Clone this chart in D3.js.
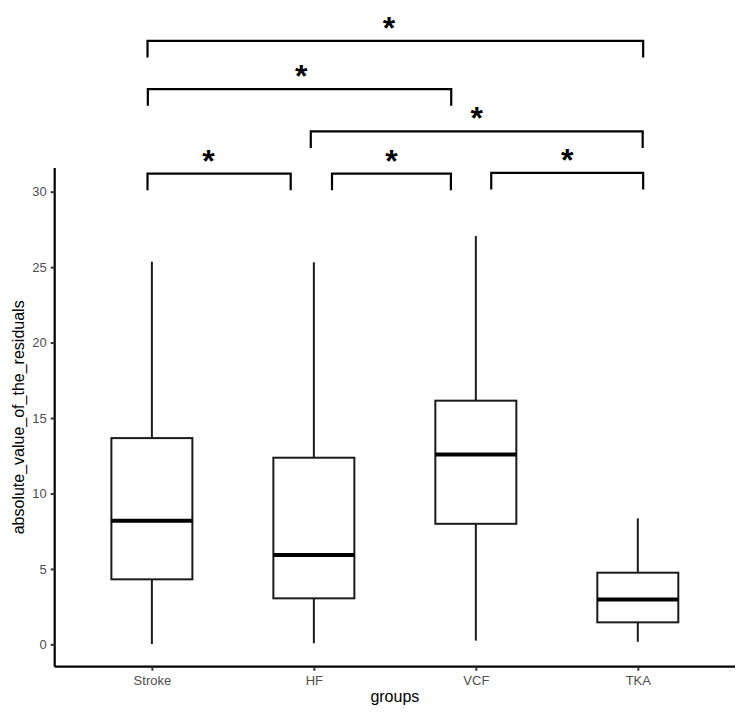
<!DOCTYPE html>
<html>
<head>
<meta charset="utf-8">
<script src="https://cdn.jsdelivr.net/npm/d3@7"></script>
<style>
  html, body { margin: 0; padding: 0; background: #fff; }
  svg { display: block; }
</style>
</head>
<body>
<svg id="chart" width="750" height="712"></svg>
<script>
// ---- data ----
const categories = ["Stroke", "HF", "VCF", "TKA"];
const whiskerLow  = [0.02, 0.07, 0.25, 0.17];
const q1          = [4.31, 3.05, 7.99, 1.46];
const median      = [8.19, 5.92, 12.59, 2.98];
const q3          = [13.67, 12.37, 16.15, 4.75];
const whiskerHigh = [25.36, 25.32, 27.06, 8.35];
const yTicks = [0, 5, 10, 15, 20, 25, 30];

// significance brackets (x in category units, 1-based; y in data units)
const bracketStart = [0.973, 0.975, 1.981, 0.973, 2.112, 3.095];
const bracketEnd   = [4.033, 2.848, 4.030, 1.857, 2.846, 4.033];
const bracketY     = [40.0, 36.8, 34.0, 31.2, 31.2, 31.25];
const bracketLabel = ["*", "*", "*", "*", "*", "*"];
const labelShift   = [-0.04, 0.01, 0, -0.065, 0, 0];

// ---- layout ----
const svg = d3.select("#chart");
const x = d3.scaleLinear().domain([0.4, 4.6]).range([54.7, 735]);
const y = d3.scaleLinear().domain([-1.48, 31.57]).range([666.7, 168]);
const boxW = 0.5;
const tickLen = 1.1;

const fontFam = "'Liberation Sans', Arial, Helvetica, sans-serif";

// boxes
const g = svg.append("g");
categories.forEach((c, i) => {
  const cx = x(i + 1);
  g.append("line").attr("x1", cx).attr("x2", cx)
    .attr("y1", y(q3[i])).attr("y2", y(whiskerHigh[i]))
    .attr("stroke", "#1a1a1a").attr("stroke-width", 2);
  g.append("line").attr("x1", cx).attr("x2", cx)
    .attr("y1", y(q1[i])).attr("y2", y(whiskerLow[i]))
    .attr("stroke", "#1a1a1a").attr("stroke-width", 2);
  g.append("rect")
    .attr("x", x(i + 1 - boxW / 2)).attr("width", x(i + 1 + boxW / 2) - x(i + 1 - boxW / 2))
    .attr("y", y(q3[i])).attr("height", y(q1[i]) - y(q3[i]))
    .attr("fill", "#fff").attr("stroke", "#1a1a1a").attr("stroke-width", 2);
  g.append("line")
    .attr("x1", x(i + 1 - boxW / 2)).attr("x2", x(i + 1 + boxW / 2))
    .attr("y1", y(median[i])).attr("y2", y(median[i]))
    .attr("stroke", "#000").attr("stroke-width", 4);
});

// axes
const yAxis = d3.axisLeft(y).tickValues(yTicks).tickSize(4).tickPadding(4);
const yG = svg.append("g").attr("transform", `translate(${x(0.4)},0)`).call(yAxis);
const xAxis = d3.axisBottom(x).tickValues([1, 2, 3, 4]).tickFormat((d) => categories[d - 1]).tickSize(4).tickPadding(5);
const xG = svg.append("g").attr("transform", `translate(0,${y(-1.48)})`).call(xAxis);
[yG, xG].forEach((ax) => {
  ax.select(".domain").attr("stroke", "#000").attr("stroke-width", 2.2);
  ax.selectAll(".tick line").attr("stroke", "#333").attr("stroke-width", 2);
  ax.selectAll(".tick text").attr("fill", "#4d4d4d").attr("font-size", 13).attr("font-family", fontFam);
});
yG.select(".domain").attr("d", `M0,${y(31.57)}V${y(-1.48)}`);
xG.select(".domain").attr("d", `M${x(0.4)},0H${x(4.6)}`);

// axis titles
svg.append("text").attr("x", (x(0.4) + x(4.6)) / 2).attr("y", 702)
  .attr("text-anchor", "middle").attr("font-size", 16).attr("font-family", fontFam)
  .attr("fill", "#000").text("groups");
svg.append("text").attr("transform", `translate(24,${(y(-1.48) + y(31.57)) / 2}) rotate(-90)`)
  .attr("text-anchor", "middle").attr("font-size", 16).attr("font-family", fontFam)
  .attr("fill", "#000").text("absolute_value_of_the_residuals");

// brackets
const bg = svg.append("g");
bracketStart.forEach((s, i) => {
  const e = bracketEnd[i], by = bracketY[i];
  bg.append("path")
    .attr("d", `M${x(s)},${y(by - tickLen)}V${y(by)}H${x(e)}V${y(by - tickLen)}`)
    .attr("fill", "none").attr("stroke", "#000").attr("stroke-width", 2.2);
  bg.append("text")
    .attr("x", x((s + e) / 2 + labelShift[i])).attr("y", y(by) - 2)
    .attr("text-anchor", "middle").attr("font-size", 32).attr("font-weight", "bold")
    .attr("font-family", fontFam).attr("fill", "#000").text(bracketLabel[i]);
});
</script>
</body>
</html>
